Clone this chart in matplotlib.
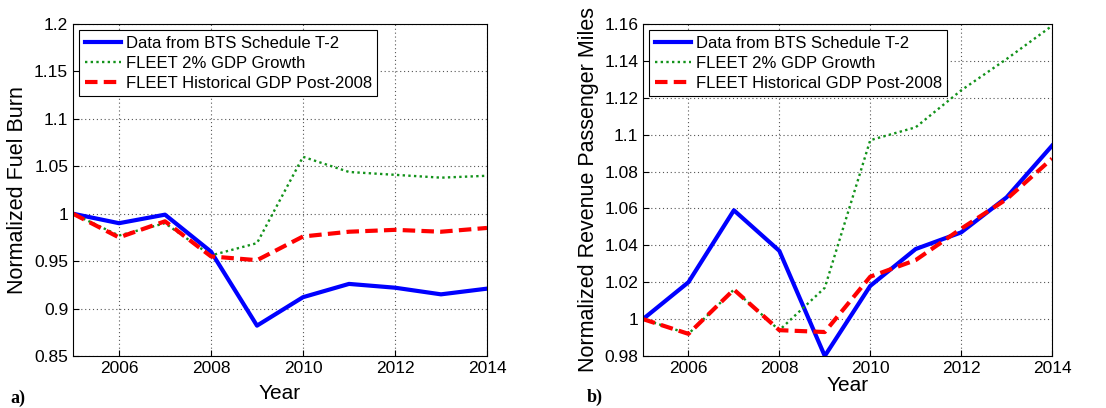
import matplotlib
matplotlib.use("Agg")
import matplotlib.pyplot as plt
from matplotlib.ticker import FuncFormatter
import numpy as np

plt.rcParams['font.family'] = ['Liberation Sans', 'DejaVu Sans']

years = np.arange(2005, 2015)

# a) normalized fuel burn
fuel_bts = [1.0, 0.990, 0.999, 0.960, 0.882, 0.912, 0.926, 0.922, 0.915, 0.921]
fuel_gdp2 = [1.0, 0.977, 0.990, 0.956, 0.969, 1.060, 1.044, 1.041, 1.038, 1.040]
fuel_hist = [1.0, 0.975, 0.992, 0.955, 0.951, 0.976, 0.981, 0.983, 0.981, 0.985]

# b) normalized revenue passenger miles
rpm_bts = [1.0, 1.020, 1.059, 1.037, 0.980, 1.018, 1.038, 1.047, 1.066, 1.094]
rpm_gdp2 = [1.0, 0.992, 1.016, 0.994, 1.017, 1.097, 1.104, 1.124, 1.141, 1.159]
rpm_hist = [1.0, 0.992, 1.016, 0.994, 0.993, 1.023, 1.032, 1.049, 1.065, 1.087]

labels = ["Data from BTS Schedule T-2", "FLEET 2% GDP Growth",
          "FLEET Historical GDP Post-2008"]

fig = plt.figure(figsize=(11.06, 4.08), dpi=100)
ax1 = fig.add_axes([73 / 1106, 52 / 408, 414 / 1106, 332 / 408])
ax2 = fig.add_axes([643 / 1106, 52 / 408, 409 / 1106, 332 / 408])

fmt = FuncFormatter(lambda v, p: "%g" % round(v, 4))


def draw(ax, bts, gdp2, hist, ylim, yticks, ylabel, xpad):
    ax.plot(years, bts, color='#0000ff', lw=3, label=labels[0])
    ax.plot(years, gdp2, color='#12921a', lw=1.7, ls=(0, (1, 1.4)), label=labels[1])
    ax.plot(years, hist, color='#ff0000', lw=3, ls=(0, (3, 1.5)), label=labels[2])
    ax.set_xlim(2005, 2014)
    ax.set_ylim(*ylim)
    ax.set_xticks(range(2006, 2015, 2))
    ax.set_yticks(yticks)
    ax.yaxis.set_major_formatter(fmt)
    ax.grid(True, color='#555555', ls=(0, (1, 2.5)), lw=0.8)
    ax.tick_params(labelsize=12.5, direction='in', length=4)
    ax.set_xlabel("Year", fontsize=15, labelpad=xpad)
    ax.set_ylabel(ylabel, fontsize=15.5, labelpad=4)
    leg = ax.legend(loc='upper left', fontsize=12, fancybox=False,
                    edgecolor='black', framealpha=1, borderaxespad=0.35,
                    handlelength=2.2, handletextpad=0.25, labelspacing=0.3,
                    borderpad=0.35)
    leg.get_frame().set_linewidth(0.8)


draw(ax1, fuel_bts, fuel_gdp2, fuel_hist, (0.85, 1.2),
     np.arange(0.85, 1.2001, 0.05), "Normalized Fuel Burn", 6)
draw(ax2, rpm_bts, rpm_gdp2, rpm_hist, (0.98, 1.16),
     np.arange(0.98, 1.1601, 0.02), "Normalized Revenue Passenger Miles", 0)

fig.text(10 / 1106, 1 - 398 / 408, "a)", fontsize=13, fontweight='bold',
         family='Liberation Serif', va='center')
fig.text(587 / 1106, 1 - 397 / 408, "b)", fontsize=13, fontweight='bold',
         family='Liberation Serif', va='center')

fig.savefig("out.png", dpi=100)
